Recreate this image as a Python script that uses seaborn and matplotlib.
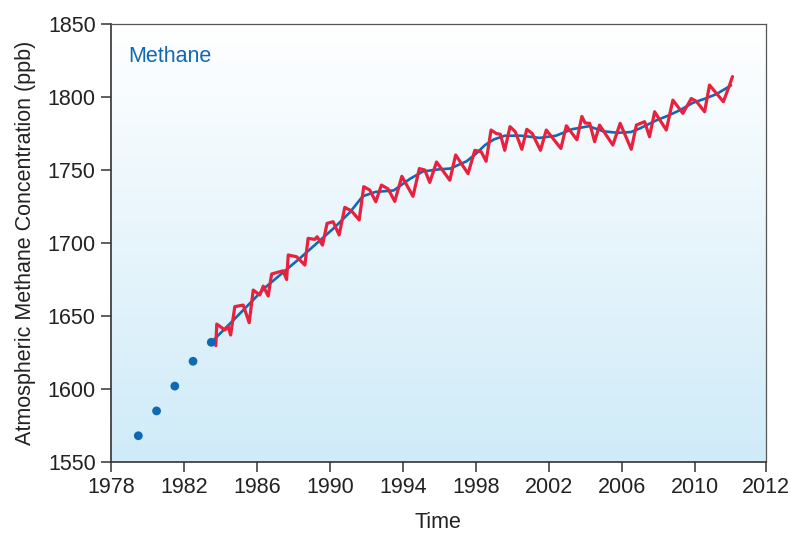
import numpy as np
import pandas as pd
import matplotlib
matplotlib.use('Agg')
import matplotlib.pyplot as plt
from matplotlib.colors import LinearSegmentedColormap
import seaborn as sns

# early annual points (dots)
dot_years = [1979.5, 1980.5, 1981.5, 1982.5, 1983.5]
dot_ppb = [1568, 1585, 1602, 1619, 1632]

# smoothed trend (blue)
trend_years = [1983.5, 1984.7, 1986.5, 1988.4, 1990.2, 1991.1, 1991.8, 1992.5,
               1993.5, 1994.4, 1995.1, 1996.0, 1996.6, 1997.5, 1998.0, 1998.5,
               1999.0, 1999.6, 2000.5, 2001.5, 2002.4, 2003.3, 2004.2, 2005.0,
               2005.8, 2006.5, 2007.0, 2007.9, 2008.5, 2009.2, 2009.9, 2010.6,
               2011.2, 2012.0]
trend_ppb = [1632, 1647, 1670, 1690, 1710, 1721, 1732, 1735,
             1736, 1744, 1749, 1750.5, 1751, 1756, 1761, 1767,
             1771, 1773.5, 1773.5, 1772, 1773.5, 1778, 1780, 1776.5,
             1775.5, 1776, 1778.5, 1784, 1787, 1791, 1796, 1799,
             1802, 1808]

# monthly values with seasonal cycle (red)
monthly_years = [1983.75, 1983.80, 1984.25, 1984.43, 1984.56, 1984.79, 1985.25, 1985.58,
                 1985.80, 1986.16, 1986.35, 1986.62, 1986.81, 1987.44, 1987.63, 1987.72,
                 1988.18, 1988.63, 1988.81, 1989.18, 1989.30, 1989.60, 1989.85, 1990.18,
                 1990.51, 1990.82, 1991.19, 1991.61, 1991.86, 1992.19, 1992.52, 1992.83,
                 1993.20, 1993.56, 1993.95, 1994.56, 1994.91, 1995.21, 1995.48, 1995.85,
                 1996.58, 1996.90, 1997.58, 1997.95, 1998.30, 1998.57, 1998.84, 1999.13,
                 1999.35, 1999.59, 1999.88, 2000.17, 2000.53, 2000.80, 2001.10, 2001.55,
                 2001.87, 2002.67, 2002.97, 2003.55, 2003.82, 2004.00, 2004.25, 2004.52,
                 2004.79, 2005.52, 2005.92, 2006.53, 2006.81, 2007.26, 2007.53, 2007.81,
                 2008.45, 2008.81, 2009.36, 2009.82, 2010.10, 2010.55, 2010.82, 2011.58,
                 2011.92, 2012.08]
monthly_ppb = [1629.7, 1644.5, 1640.4, 1642.7, 1637.0, 1656.4, 1657.5, 1645.4,
               1667.8, 1664.4, 1670.5, 1663.7, 1678.8, 1681.0, 1675.0, 1691.8,
               1690.6, 1684.9, 1703.2, 1702.5, 1704.3, 1698.6, 1713.5, 1714.6,
               1705.5, 1724.4, 1722.0, 1715.8, 1738.6, 1736.3, 1728.3, 1739.7,
               1737.0, 1728.5, 1745.7, 1732.0, 1751.0, 1750.0, 1741.5, 1755.5,
               1743.0, 1760.3, 1747.5, 1763.5, 1762.5, 1756.0, 1777.4, 1775.0,
               1774.5, 1763.5, 1779.7, 1776.2, 1764.2, 1777.9, 1775.0, 1763.5,
               1777.4, 1764.8, 1780.3, 1770.7, 1786.7, 1782.2, 1782.0, 1769.4,
               1780.8, 1767.1, 1782.0, 1764.2, 1780.8, 1783.1, 1772.8, 1789.9,
               1777.4, 1797.9, 1788.8, 1799.0, 1797.0, 1789.9, 1808.2, 1796.8,
               1808.2, 1814.0]

x_ticks = [1978, 1982, 1986, 1990, 1994, 1998, 2002, 2006, 2010, 2013.9]
x_tick_labels = ['1978', '1982', '1986', '1990', '1994', '1998', '2002', '2006', '2010', '2012']
y_ticks = [1550, 1600, 1650, 1700, 1750, 1800, 1850]

df_dots = pd.DataFrame({'ano': dot_years, 'ppb': dot_ppb})
df_trend = pd.DataFrame({'ano': trend_years, 'ppb': trend_ppb})
df_monthly = pd.DataFrame({'ano': monthly_years, 'ppb': monthly_ppb})

sns.set_theme(style='ticks')
plt.rcParams['font.family'] = ['Liberation Sans', 'DejaVu Sans']

red = '#E8213F'
blue = '#0F69B4'
dark = '#333333'

fig = plt.figure(figsize=(7.91, 5.34), dpi=100)
ax = fig.add_axes([0.1403, 0.1348, 0.968 - 0.1403, 0.955 - 0.1348])

# background gradient (white at top -> light blue at bottom)
grad = LinearSegmentedColormap.from_list('fundo', ['#CFEBF8', '#FFFFFF'])
ax.imshow(np.linspace(0, 1, 256).reshape(-1, 1)[::-1], cmap=grad, aspect='auto',
          extent=[0, 1, 0, 1], transform=ax.transAxes, zorder=0)

sns.lineplot(data=df_trend, x='ano', y='ppb', ax=ax, color=blue, linewidth=1.9,
             estimator=None, zorder=2)
sns.lineplot(data=df_monthly, x='ano', y='ppb', ax=ax, color=red, linewidth=2.3,
             estimator=None, zorder=3, solid_joinstyle='round')
sns.scatterplot(data=df_dots, x='ano', y='ppb', ax=ax, color=blue, s=40,
                edgecolor='none', zorder=4)

ax.set_xlim(1978, 2013.9)
ax.set_ylim(1550, 1850)
ax.set_xticks(x_ticks)
ax.set_xticklabels(x_tick_labels)
ax.set_yticks(y_ticks)

ax.tick_params(axis='both', direction='out', length=7.5, width=1.1, color=dark,
               labelsize=15.5, labelcolor='#222222', pad=3.5)

for side in ['left', 'bottom']:
    ax.spines[side].set_color(dark)
    ax.spines[side].set_linewidth(1.2)
for side in ['top', 'right']:
    ax.spines[side].set_visible(True)
    ax.spines[side].set_color('#555555')
    ax.spines[side].set_linewidth(0.9)

ax.set_xlabel('Time', fontsize=15.5, color='#222222', labelpad=10)
ax.set_ylabel('Atmospheric Methane Concentration (ppb)', fontsize=15.5,
              color='#222222', labelpad=8)

ax.text(0.026, 0.914, 'Methane', transform=ax.transAxes, fontsize=15.5,
        color=blue, va='baseline', ha='left', zorder=5)

fig.savefig('out.png', dpi=100)
